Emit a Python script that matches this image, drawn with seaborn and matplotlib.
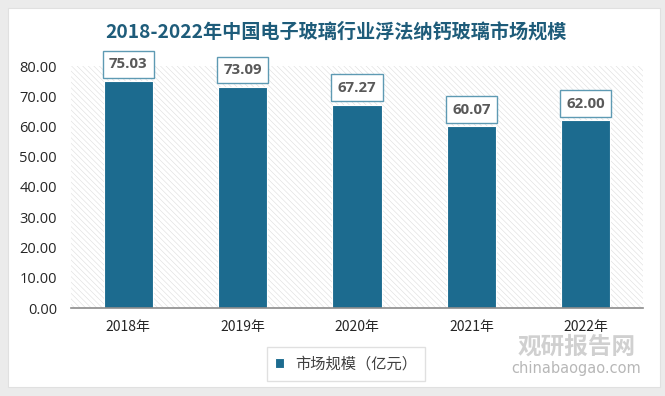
import matplotlib
matplotlib.use("Agg")
import matplotlib.pyplot as plt
from matplotlib.patches import Rectangle
import seaborn as sns
import pandas as pd

years = ["2018年", "2019年", "2020年", "2021年", "2022年"]
values = [75.03, 73.09, 67.27, 60.07, 62.00]
yticks = [0, 10, 20, 30, 40, 50, 60, 70, 80]
title = "2018-2022年中国电子玻璃行业浮法纳钙玻璃市场规模"
legend_label = "市场规模（亿元）"

sns.set_theme(style="white")
plt.rcParams['font.family'] = ['Noto Sans CJK SC', 'DejaVu Sans']
plt.rcParams['hatch.linewidth'] = 0.4

BAR = "#1C6B8F"
df = pd.DataFrame({"year": years, "value": values})

fig = plt.figure(figsize=(6.65, 3.96), dpi=100)
fig.patch.set_facecolor("#EBEBEB")
card = Rectangle((8/665, 1-387/396), (660-8)/665, (387-8)/396, transform=fig.transFigure,
                 facecolor="white", edgecolor="#E0E0E0", lw=0.8, zorder=-10)
fig.patches.append(card)

ax = fig.add_axes([71/665, 1-308/396, (643-71)/665, (308-66)/396])
ax.set_zorder(1)
ax.set_facecolor("none")
ax.add_patch(Rectangle((0, 0), 1, 1, transform=ax.transAxes, facecolor="white",
                       edgecolor="#DDDDDD", hatch="\\\\\\\\\\\\", lw=0, zorder=0))

sns.barplot(data=df, x="year", y="value", color=BAR, width=0.43, ax=ax,
            saturation=1, edgecolor="white", linewidth=0.8, zorder=2, label=legend_label)

ax.set_xlim(-0.5, 4.5)
ax.set_ylim(0, 80)
ax.set_yticks(yticks)
ax.set_yticklabels([f"{v:.2f}" for v in yticks], fontsize=10.5, color="#262626",
                   family=['Open Sans', 'DejaVu Sans'])
ax.set_xticks(range(len(years)))
ax.set_xticklabels(years, fontsize=10, color="#262626")
ax.tick_params(axis='x', length=0, pad=9)
ax.tick_params(axis='y', length=0, pad=10)
ax.set_xlabel("")
ax.set_ylabel("")
for s in ["top", "right", "left"]:
    ax.spines[s].set_visible(False)
ax.spines["bottom"].set_color("#8C8C8C")
ax.spines["bottom"].set_linewidth(1.2)

for i, v in enumerate(values):
    ax.annotate(f"{v:.2f}", xy=(i, v), xytext=(0, 7), textcoords="offset points",
                ha="center", va="bottom", fontsize=10.8, fontweight="bold", color="#595959",
                family=['Open Sans', 'DejaVu Sans'],
                bbox=dict(boxstyle="square,pad=0.42", facecolor="white", edgecolor="#5E9AB3", lw=1.0),
                zorder=5)

fig.text(336/665, 1-32/396, title, ha="center", va="center", fontsize=13.8,
         fontweight="bold", color="#1E5C7A")

leg = ax.legend(loc="center", bbox_to_anchor=(346/665, 1-364/396), bbox_transform=fig.transFigure,
                frameon=True, fancybox=False, fontsize=11, handlelength=0.6, handleheight=0.6,
                borderpad=0.55, handletextpad=0.7, borderaxespad=0)
leg.get_frame().set_edgecolor("#D9D9D9")
leg.get_frame().set_linewidth(1.0)
for t in leg.get_texts():
    t.set_color("#404040")

# watermark
fig.text(577/665, 1-347/396, "观研报告网", ha="center", va="center", fontsize=17,
         fontweight="bold", color="#C8C8C8", alpha=0.85, zorder=10)
fig.text(576/665, 1-369/396, "chinabaogao.com", ha="center", va="center", fontsize=10.5,
         color="#B0B0B0", alpha=0.9, zorder=10, family=['DejaVu Sans'])

fig.savefig("out.png", dpi=100, facecolor=fig.get_facecolor())
